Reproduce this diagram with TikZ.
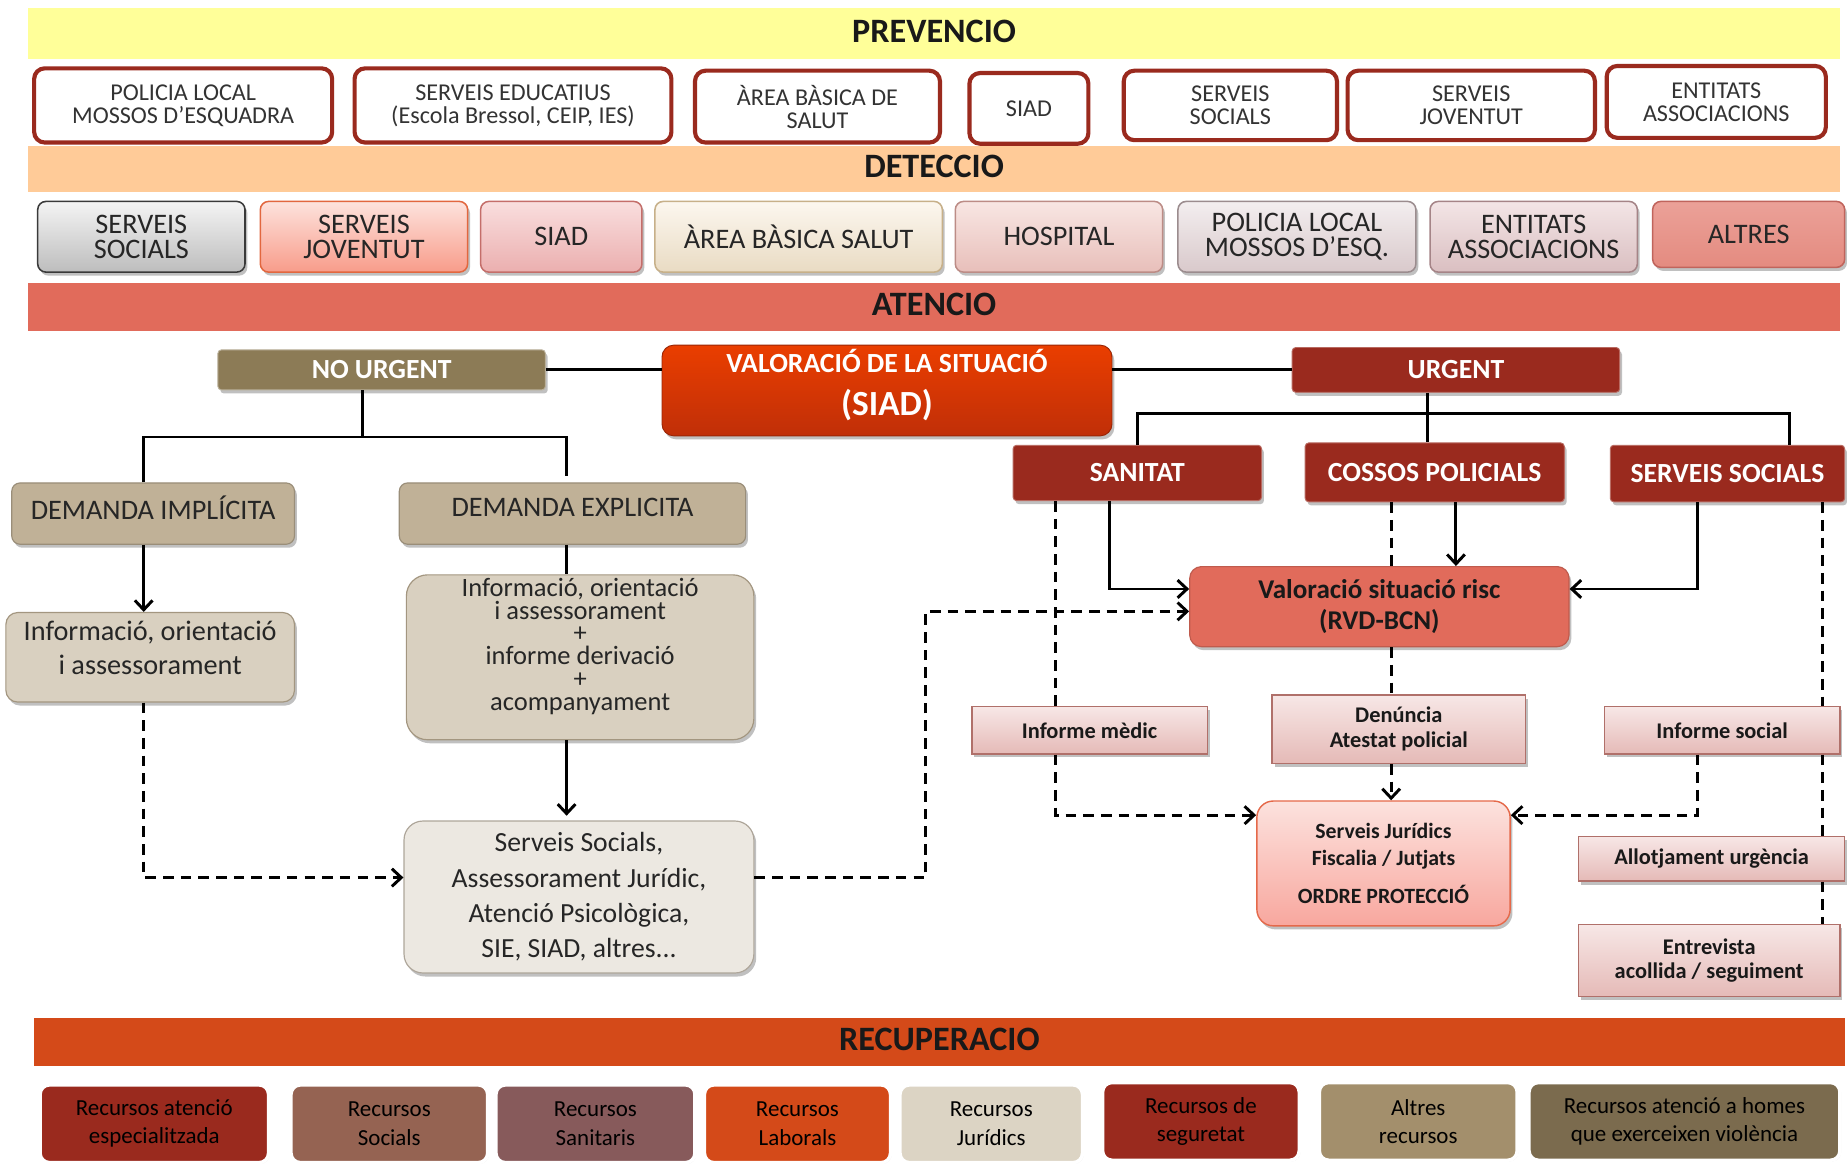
\documentclass[tikz,border=0pt]{standalone}
\usepackage{fontspec}
\setmainfont{Carlito}
\usetikzlibrary{arrows.meta,shadows}
\definecolor{groc}{HTML}{FFFF99}
\definecolor{presseg}{HTML}{FFCB98}
\definecolor{salmo}{HTML}{E16B5B}
\definecolor{taronja}{HTML}{D44A19}
\definecolor{granat}{HTML}{9A2A1E}
\definecolor{oliva}{HTML}{8C7B56}
\definecolor{bru}{HTML}{C0B197}
\definecolor{beix}{HTML}{D9D0C0}
\definecolor{beixclar}{HTML}{ECE8E1}
\definecolor{gris1}{HTML}{F4F4F4}
\definecolor{gris2}{HTML}{BDBDBD}
\definecolor{grisvora}{HTML}{3A3A3A}
\definecolor{jov1}{HTML}{FDE3DD}
\definecolor{jov2}{HTML}{F89C8A}
\definecolor{jovvora}{HTML}{E2673F}
\definecolor{siad1}{HTML}{F9DEDE}
\definecolor{siad2}{HTML}{EBAFAF}
\definecolor{siadvora}{HTML}{C46E6A}
\definecolor{abs1}{HTML}{FCF7EF}
\definecolor{abs2}{HTML}{E9DBC3}
\definecolor{absvora}{HTML}{C7B089}
\definecolor{hosp1}{HTML}{F8E6E3}
\definecolor{hosp2}{HTML}{E8BFBA}
\definecolor{hospvora}{HTML}{BC8C86}
\definecolor{pol1}{HTML}{F3EEEF}
\definecolor{pol2}{HTML}{D9C9CB}
\definecolor{polvora}{HTML}{9B8C8E}
\definecolor{ent1}{HTML}{F3E5E6}
\definecolor{ent2}{HTML}{DABFC1}
\definecolor{entvora}{HTML}{A58487}
\definecolor{altres1}{HTML}{EBA198}
\definecolor{altres2}{HTML}{E48B80}
\definecolor{altresvora}{HTML}{C0645C}
\definecolor{inf1}{HTML}{F7E7E6}
\definecolor{inf2}{HTML}{E5BAB7}
\definecolor{infvora}{HTML}{B0706A}
\definecolor{jur1}{HTML}{FCE2DE}
\definecolor{jur2}{HTML}{F8A79E}
\definecolor{jurvora}{HTML}{E5694A}
\definecolor{val1}{HTML}{EA3E00}
\definecolor{val2}{HTML}{C02F08}
\definecolor{recsocial}{HTML}{956352}
\definecolor{recsanit}{HTML}{875A5B}
\definecolor{recjurid}{HTML}{DCD4C4}
\definecolor{recaltres}{HTML}{A38F6C}
\definecolor{rechomes}{HTML}{7B6B4E}

\begin{document}
\begin{tikzpicture}[x=1pt, y=-1pt,
    mida/.style 2 args={minimum width=#1pt, minimum height=#2pt},
    ombra/.style={drop shadow={shadow xshift=2pt, shadow yshift=-3pt, opacity=.35, fill=black!70}},
    franja/.style={rectangle, inner sep=0pt, minimum width=1538pt, text=black!90, text depth=4pt,
        font={\fontsize{29}{30}\selectfont\bfseries}},
    prev/.style={draw=granat, line width=3.5pt, fill=white, rounded corners=9pt, align=center,
        inner sep=0pt, text=black!80, font={\fontsize{20.5}{19.5}\selectfont}},
    det/.style n args={3}{top color=#1, bottom color=#2, draw=#3, line width=1.3pt, rounded corners=7pt,
        align=center, inner sep=0pt, text=black!85, font={\fontsize{24}{21}\selectfont}, ombra},
    fosc/.style={fill=granat, draw=granat!70!white, line width=.8pt, rounded corners=3pt, inner sep=0pt,
        text=white, font={\fontsize{23.5}{24}\selectfont\bfseries}, ombra},
    demanda/.style={fill=bru, draw=bru!80!black, line width=1pt, rounded corners=7pt, inner sep=0pt,
        text=black!85, text depth=10pt, font={\fontsize{24}{24}\selectfont}, ombra},
    caixabeix/.style={fill=beix, draw=bru!85!black, line width=1pt, rounded corners=10pt, inner sep=0pt,
        align=center, text=black!85, font={\fontsize{24}{29}\selectfont}, ombra},
    informe/.style={top color=inf1, bottom color=inf2, draw=infvora, line width=1.2pt, inner sep=0pt,
        align=center, text=black!90, font={\fontsize{19}{21}\selectfont\bfseries}, ombra},
    recurs/.style={draw=white, line width=3pt, rounded corners=8pt, inner sep=0pt, align=center,
        text=black, font={\fontsize{19.5}{24}\selectfont},
        drop shadow={shadow xshift=1pt, shadow yshift=-1pt, opacity=.25, fill=black!50}},
    linia/.style={line width=2.5pt},
    discont/.style={line width=2.5pt, dash pattern=on 9pt off 6pt},
    fletxa/.style={-{Straight Barb[length=8pt, width=15pt]}}]
    \path[use as bounding box, fill=white] (0,0) rectangle (1568,991);

    \node[franja, fill=groc, minimum height=43pt] (prevencio) at (793,28.5) {PREVENCIO};
    \node[franja, fill=presseg, minimum height=39pt] (deteccio) at (793,143.5) {DETECCIO};
    \node[franja, fill=salmo, minimum height=41pt] (atencio) at (793,260.5) {ATENCIO};
    \node[franja, fill=taronja, minimum width=1537pt, minimum height=41pt] (recuperacio) at (797.5,884.5) {RECUPERACIO};

    \node[prev, mida={253}{63}] (p_policia) at (155.5,89.5) {POLICIA LOCAL\\MOSSOS D'ESQUADRA};
    \node[prev, mida={269}{63}] (p_educatius) at (435.5,89.5) {SERVEIS EDUCATIUS\\(Escola Bressol, CEIP, IES)};
    \node[prev, mida={208}{61}] (p_abs) at (694,90.5) {ÀREA BÀSICA DE\\SALUT};
    \node[prev, mida={101}{60}] (p_siad) at (873.5,92) {SIAD};
    \node[prev, mida={181}{59}] (p_socials) at (1044.5,89.5) {SERVEIS\\SOCIALS};
    \node[prev, mida={210}{59}] (p_joventut) at (1249,89.5) {SERVEIS\\JOVENTUT};
    \node[prev, mida={186}{61}] (p_entitats) at (1457,86.5) {ENTITATS\\ASSOCIACIONS};

    \node[det={gris1}{gris2}{grisvora}, mida={176}{60}] (d_socials) at (120,201) {SERVEIS\\SOCIALS};
    \node[det={jov1}{jov2}{jovvora}, mida={176}{60}] (d_joventut) at (309,201) {SERVEIS\\JOVENTUT};
    \node[det={siad1}{siad2}{siadvora}, mida={137}{60}] (d_siad) at (476.5,201) {SIAD};
    \node[det={abs1}{abs2}{absvora}, mida={244}{60}] (d_abs) at (678,201) {ÀREA BÀSICA SALUT};
    \node[det={hosp1}{hosp2}{hospvora}, mida={176}{60}] (d_hospital) at (899,201) {HOSPITAL};
    \node[det={pol1}{pol2}{polvora}, mida={202}{60}] (d_policia) at (1101,201) {POLICIA LOCAL\\MOSSOS D'ESQ.};
    \node[det={ent1}{ent2}{entvora}, mida={176}{60}] (d_entitats) at (1302,201) {ENTITATS\\ASSOCIACIONS};
    \node[det={altres1}{altres2}{altresvora}, mida={163}{56}] (d_altres) at (1484.5,199) {ALTRES};

    \node[fosc, fill=oliva, draw=oliva!60!white, mida={278}{34}] (nourgent) at (324,314) {NO URGENT};
    \node[rounded corners=10pt, top color=val1, bottom color=val2, draw=val2!80!black, line width=.8pt,
        inner sep=0pt, align=center, text=white, text depth=13.5pt, font={\fontsize{23.5}{26}\selectfont\bfseries}, ombra,
        mida={382}{77}] (valoracio) at (753,331.5) {VALORACIÓ DE LA SITUACIÓ\\[11pt]{\fontsize{30}{32}\selectfont(SIAD)}};
    \node[fosc, mida={278}{38}] (urgent) at (1236,314) {URGENT};
    \node[fosc, mida={211}{47}] (sanitat) at (965.5,401.5) {SANITAT};
    \node[fosc, mida={220}{50}] (cossos) at (1218,401) {COSSOS POLICIALS};
    \node[fosc, mida={199}{48}] (ssocials) at (1466.5,402) {SERVEIS SOCIALS};

    \node[demanda, mida={240}{52}] (implicita) at (130,436) {DEMANDA IMPLÍCITA};
    \node[demanda, mida={294}{52}] (explicita) at (486,436) {DEMANDA EXPLICITA};
    \node[caixabeix, text depth=16pt, mida={245}{76}] (infoimp) at (127.5,558) {Informació, orientació\\i assessorament};
    \node[caixabeix, rounded corners=18pt, text depth=22pt, font={\fontsize{22.5}{19.5}\selectfont}, mida={295}{140}] (infoexp) at (492.5,558)
        {Informació, orientació\\i assessorament\\+\\informe derivació\\+\\acompanyament};
    \node[caixabeix, fill=beixclar, draw=beix!80!black, rounded corners=16pt, font={\fontsize{23.5}{30}\selectfont},
        mida={297}{129}] (serveis) at (491.5,761.5) {Serveis Socials,\\Assessorament Jurídic,\\Atenció Psicològica,\\SIE, SIAD, altres...};

    \node[fill=salmo, draw=salmo!85!black, line width=1pt, rounded corners=10pt, inner sep=0pt, align=center,
        text=black!90, font={\fontsize{23}{26}\selectfont\bfseries}, ombra, mida={322}{68}] (risc) at (1171,515)
        {Valoració situació risc\\(RVD-BCN)};
    \node[informe, mida={200}{40}] (medic) at (925,620) {Informe mèdic};
    \node[informe, mida={215}{58}] (denuncia) at (1187.5,619) {Denúncia\\Atestat policial};
    \node[informe, mida={200}{40}] (isocial) at (1462,620) {Informe social};
    \node[informe, top color=jur1, bottom color=jur2, draw=jurvora, rounded corners=14pt, font={\fontsize{18.5}{23}\selectfont\bfseries},
        mida={215}{106}] (juridics) at (1174.5,733) {Serveis Jurídics\\Fiscalia / Jutjats\\[9pt]ORDRE PROTECCIÓ};
    \node[informe, mida={226}{38}] (allotjament) at (1453,729) {Allotjament urgència};
    \node[informe, mida={222}{61}] (entrevista) at (1451,815.5) {Entrevista\\acollida / seguiment};

    \node[recurs, fill=granat, mida={194}{66}] (r_especialitzada) at (131,954) {Recursos atenció\\especialitzada};
    \node[recurs, fill=recsocial, mida={167}{66}] (r_socials) at (330.5,954) {Recursos\\Socials};
    \node[recurs, fill=recsanit, mida={169}{66}] (r_sanitaris) at (505.5,954) {Recursos\\Sanitaris};
    \node[recurs, fill=taronja, mida={158}{66}] (r_laborals) at (677,954) {Recursos\\Laborals};
    \node[recurs, fill=recjurid, mida={155}{66}] (r_juridics) at (841.5,954) {Recursos\\Jurídics};
    \node[recurs, fill=granat, mida={167}{66}] (r_seguretat) at (1019.5,952) {Recursos de\\seguretat};
    \node[recurs, fill=recaltres, mida={168}{66}] (r_altres) at (1204,952) {Altres\\recursos};
    \node[recurs, fill=rechomes, mida={264}{66}] (r_homes) at (1430,952) {Recursos atenció a homes\\que exerceixen violència};

    \coordinate (nu) at (308,371);
    \coordinate (ximp) at (122,0);
    \coordinate (xexp) at (481,0);
    \coordinate (yserv) at (0,745);
    \coordinate (cdash) at (786,519);
    \coordinate (ur) at (1212,351);
    \coordinate (xss) at (1519,0);
    \coordinate (xsan) at (942,500);
    \coordinate (xcos) at (1236,0);
    \coordinate (xss2) at (1441,500);
    \coordinate (xmed) at (896,692);
    \coordinate (xden) at (1181,0);
    \coordinate (xsoc) at (1441,692);
    \coordinate (xdreta) at (1547,0);

    \draw[linia] (nourgent.east) -- (nourgent.east -| valoracio.west);
    \draw[linia] (urgent.west -| valoracio.east) -- (urgent.west);
    \draw[linia] (nourgent.south -| nu) -- (nu);
    \draw[linia] (implicita.north -| ximp) |- (nu) -| ([yshift=5pt]explicita.north -| xexp);
    \draw[linia, fletxa] (implicita.south -| ximp) -- (infoimp.north -| ximp);
    \draw[linia] (explicita.south -| xexp) -- (infoexp.north -| xexp);
    \draw[linia, fletxa, shorten >=4pt] (infoexp.south -| xexp) -- (serveis.north -| xexp);
    \draw[discont, fletxa] (infoimp.south -| ximp) |- (serveis.west |- yserv);
    \draw[discont, fletxa] (serveis.east |- yserv) -| (cdash) -- (risc.west |- cdash);

    \draw[linia] (urgent.south -| ur) -- (cossos.north -| ur);
    \draw[linia] (sanitat.north) |- (ur) -| (ssocials.north -| xss);
    \draw[linia, fletxa] (sanitat.south -| xsan) |- (risc.west |- xsan);
    \draw[linia, fletxa] (cossos.south -| xcos) -- (risc.north -| xcos);
    \draw[linia, fletxa] (ssocials.south -| xss2) |- (risc.east |- xss2);

    \draw[discont] (sanitat.south -| xmed) -- (medic.north -| xmed);
    \draw[discont, fletxa] (medic.south -| xmed) |- (juridics.west |- xmed);
    \draw[discont] (cossos.south -| xden) -- (risc.north -| xden);
    \draw[discont] (risc.south -| xden) -- (denuncia.north -| xden);
    \draw[discont, fletxa] (denuncia.south -| xden) -- (juridics.north -| xden);
    \draw[discont, fletxa] (isocial.south -| xsoc) |- (juridics.east |- xsoc);
    \draw[discont] (ssocials.south -| xdreta) -- (isocial.north -| xdreta);
    \draw[discont] (isocial.south -| xdreta) -- (allotjament.north -| xdreta);
    \draw[discont] (allotjament.south -| xdreta) -- (entrevista.north -| xdreta);
\end{tikzpicture}
\end{document}
